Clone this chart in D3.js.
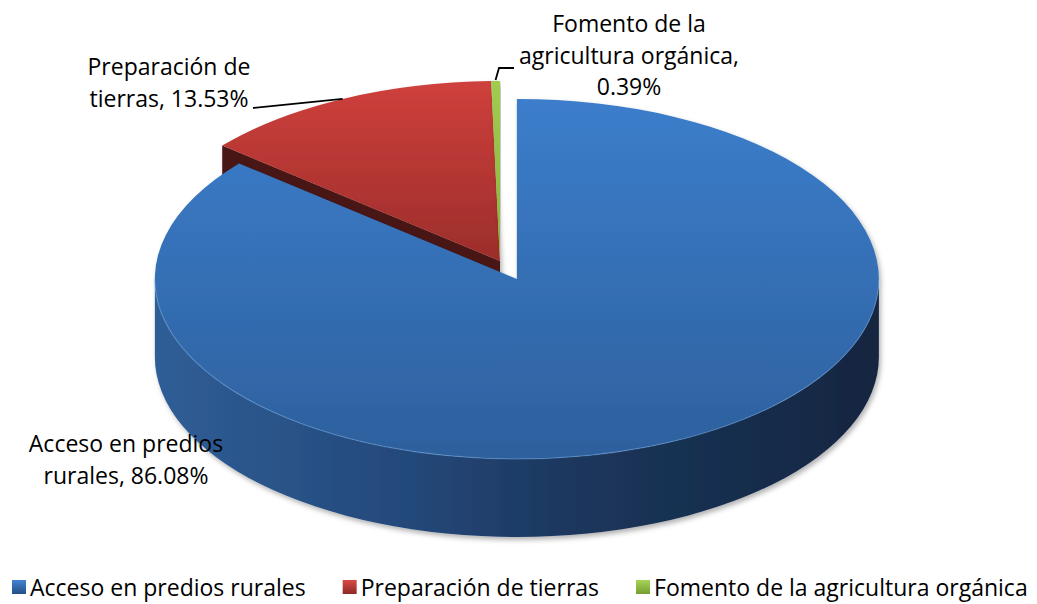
<!DOCTYPE html>
<html>
<head>
<meta charset="utf-8">
<script src="https://cdn.jsdelivr.net/npm/d3@7"></script>
<style>
  body { margin: 0; background: #fff; }
  text { font-family: "Open Sans", sans-serif; font-size: 23px; fill: #000; }
</style>
</head>
<body>
<svg id="chart" width="1037" height="604"></svg>
<script>
var categories = ["Acceso en predios rurales", "Preparación de tierras", "Fomento de la agricultura orgánica"];
var values = [86.08, 13.53, 0.39];
var labelLines = [
  ["Acceso en predios", "rurales, 86.08%"],
  ["Preparación de", "tierras, 13.53%"],
  ["Fomento de la", "agricultura orgánica,", "0.39%"]
];

var cx = 500, cy = 261, rx = 362, ry = 180, depth = 78;
var explode = [0.11, 0, 0];

var svg = d3.select("#chart");
var defs = svg.append("defs");

function grad(id, x1, y1, x2, y2, stops) {
  var g = defs.append("linearGradient").attr("id", id)
    .attr("gradientUnits", "userSpaceOnUse")
    .attr("x1", x1).attr("y1", y1).attr("x2", x2).attr("y2", y2);
  stops.forEach(function(s) {
    g.append("stop").attr("offset", s[0]).attr("stop-color", s[1]);
  });
}
grad("topBlue", 0, 95, 0, 460, [[0, "#3c7ecc"], [1, "#2d609d"]]);
grad("sideBlue", 155, 0, 880, 0, [[0, "#2f5e96"], [0.35, "#24487a"], [0.6, "#1b355a"], [1, "#132640"]]);
grad("topRed", 0, 80, 0, 265, [[0, "#cf403c"], [1, "#9a2d2a"]]);
grad("topGreen", 0, 80, 0, 265, [[0, "#a0cc50"], [1, "#86b33a"]]);
grad("legBlue", 0, 0, 0, 1, [[0, "#4284d2"], [1, "#234f86"]]);
grad("legRed", 0, 0, 0, 1, [[0, "#d94a45"], [1, "#8e2826"]]);
grad("legGreen", 0, 0, 0, 1, [[0, "#a8d358"], [1, "#769e30"]]);
defs.selectAll("linearGradient").filter(function() { return this.id.indexOf("leg") === 0; })
  .attr("gradientUnits", "objectBoundingBox");

var shadow = defs.append("filter").attr("id", "shadow")
  .attr("x", "-10%").attr("y", "-10%").attr("width", "120%").attr("height", "130%");
shadow.append("feDropShadow").attr("dx", 2).attr("dy", 3).attr("stdDeviation", 2.5)
  .attr("flood-color", "#000").attr("flood-opacity", 0.3);

var topFill = ["url(#topBlue)", "url(#topRed)", "url(#topGreen)"];
var sideFill = ["url(#sideBlue)", "#4a1515", "#5e7a25"];
var legFill = ["url(#legBlue)", "url(#legRed)", "url(#legGreen)"];

var pie = d3.pie().sort(null).value(function(d) { return d; });
var arcs = pie(values);

arcs.forEach(function(a, i) {
  var mid = (a.startAngle + a.endAngle) / 2;
  a.ox = cx + explode[i] * rx * Math.sin(mid);
  a.oy = cy - explode[i] * ry * Math.cos(mid);
});

function pt(a, ang, dz) {
  return [a.ox + rx * Math.sin(ang), a.oy - ry * Math.cos(ang) + (dz || 0)];
}

function topPath(a) {
  var p0 = pt(a, a.startAngle), p1 = pt(a, a.endAngle);
  var large = (a.endAngle - a.startAngle) > Math.PI ? 1 : 0;
  return "M" + a.ox + "," + a.oy + "L" + p0 + "A" + rx + "," + ry + " 0 " + large + " 1 " + p1 + "Z";
}

function outerWall(a) {
  var s = Math.max(a.startAngle, Math.PI / 2), e = Math.min(a.endAngle, 3 * Math.PI / 2);
  if (e <= s) return null;
  var p0 = pt(a, s), p1 = pt(a, e), p2 = pt(a, e, depth), p3 = pt(a, s, depth);
  return "M" + p0 + "A" + rx + "," + ry + " 0 0 1 " + p1 + "L" + p2 +
    "A" + rx + "," + ry + " 0 0 0 " + p3 + "Z";
}

function radialWall(a, ang) {
  var p = pt(a, ang);
  return "M" + a.ox + "," + a.oy + "L" + p + "L" + [p[0], p[1] + depth] +
    "L" + [a.ox, a.oy + depth] + "Z";
}

// back slices first (red, green), then the exploded blue one in front
var order = [1, 2, 0];
order.forEach(function(i) {
  var a = arcs[i];
  var g = svg.append("g").attr("filter", "url(#shadow)");
  if (a.startAngle > Math.PI && a.startAngle < 2 * Math.PI - 0.05) {
    g.append("path").attr("d", radialWall(a, a.startAngle)).attr("fill", sideFill[i]);
  }
  var w = outerWall(a);
  if (w) g.append("path").attr("d", w).attr("fill", sideFill[i]);
  g.append("path").attr("d", topPath(a)).attr("fill", topFill[i]);
  if (w) {
    var s = Math.max(a.startAngle, Math.PI / 2), e = Math.min(a.endAngle, 3 * Math.PI / 2);
    g.append("path")
      .attr("d", "M" + pt(a, s) + "A" + rx + "," + ry + " 0 0 1 " + pt(a, e))
      .attr("fill", "none").attr("stroke", "#6fa3e0").attr("stroke-opacity", 0.45)
      .attr("stroke-width", 1.2);
  }
});

// data labels
var labelPos = [
  { x: 126, y: 452 },
  { x: 169, y: 75 },
  { x: 629, y: 32 }
];
var lineH = 31.5;
labelLines.forEach(function(lines, i) {
  var t = svg.append("text").attr("text-anchor", "middle");
  lines.forEach(function(l, j) {
    t.append("tspan").attr("x", labelPos[i].x).attr("y", labelPos[i].y + j * lineH).text(l);
  });
});

// leader lines
var redMid = pt(arcs[1], (arcs[1].startAngle + arcs[1].endAngle) / 2);
svg.append("path")
  .attr("d", "M253,108L" + redMid)
  .attr("fill", "none").attr("stroke", "#000").attr("stroke-width", 1.8);
var greenMid = pt(arcs[2], (arcs[2].startAngle + arcs[2].endAngle) / 2);
svg.append("path")
  .attr("d", "M" + [greenMid[0], greenMid[1] - 1] + "L499,68L514,68")
  .attr("fill", "none").attr("stroke", "#000").attr("stroke-width", 1.8);

// legend
var lx = 12;
categories.forEach(function(c, i) {
  var g = svg.append("g").attr("transform", "translate(" + lx + ",580)");
  g.append("rect").attr("width", 14).attr("height", 14).attr("fill", legFill[i]);
  var t = g.append("text").attr("x", 18).attr("y", 16).text(c);
  lx += 18 + t.node().getComputedTextLength() + 37;
});
</script>
</body>
</html>
